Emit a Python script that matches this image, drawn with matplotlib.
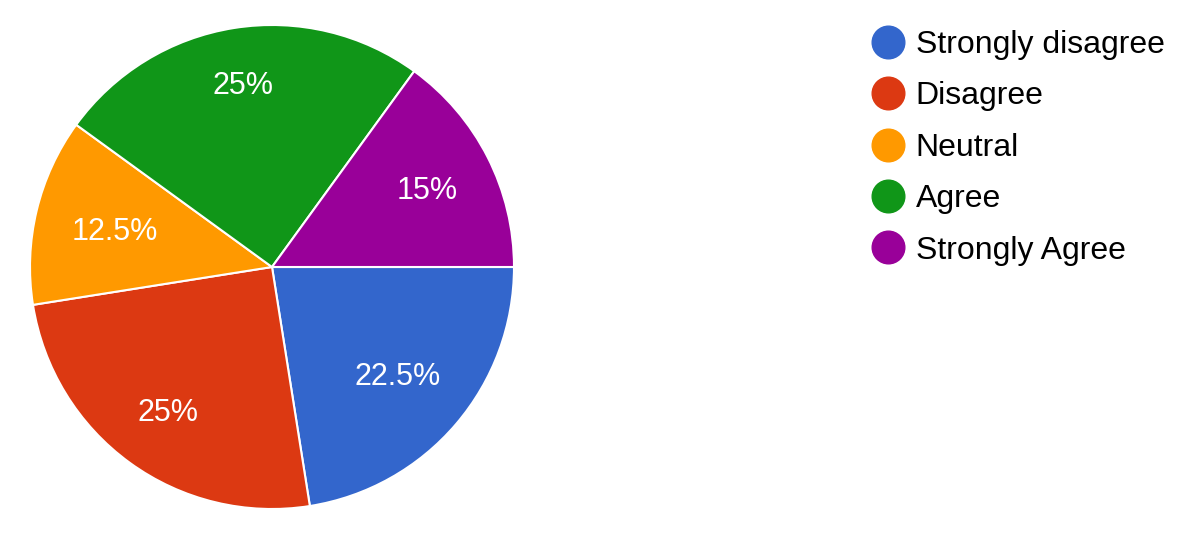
import numpy as np
import matplotlib.pyplot as plt
from matplotlib.lines import Line2D

plt.rcParams["font.family"] = ["Liberation Sans", "DejaVu Sans"]

# Data
labels = ["Strongly disagree", "Disagree", "Neutral", "Agree", "Strongly Agree"]
shares = [22.5, 25, 12.5, 25, 15]
colors = ["#3366cc", "#dc3912", "#ff9900", "#109618", "#990099"]
label_dist = [0.68, 0.73, 0.67, 0.77, 0.72]

fig = plt.figure(figsize=(12, 5.36), dpi=100)
ax = fig.add_axes([30 / 1200, 27 / 536, 484 / 1200, 484 / 536])

wedges, texts, autotexts = ax.pie(
    shares, colors=colors, startangle=0, counterclock=False,
    autopct=lambda p: "{:g}%".format(round(p, 1)), pctdistance=0.7,
    wedgeprops=dict(edgecolor="white", linewidth=1.5),
    textprops=dict(color="white", fontsize=22),
)
# move the percent labels like the original does
for w, t, d in zip(wedges, autotexts, label_dist):
    ang = np.deg2rad((w.theta1 + w.theta2) / 2)
    t.set_position((d * np.cos(ang), d * np.sin(ang) - 0.012))

ax.set_xlim(-1, 1)
ax.set_ylim(-1, 1)
ax.set_aspect("equal")

handles = [Line2D([], [], marker="o", linestyle="none", markersize=23.5,
                  markerfacecolor=c, markeredgecolor=c) for c in colors]
fig.legend(handles, labels, loc="upper left", bbox_to_anchor=(0.715, 0.968),
           frameon=False, fontsize=23, labelspacing=0.67, handletextpad=0.3,
           handlelength=1.1, borderaxespad=0)

fig.savefig("out.png", dpi=100)
